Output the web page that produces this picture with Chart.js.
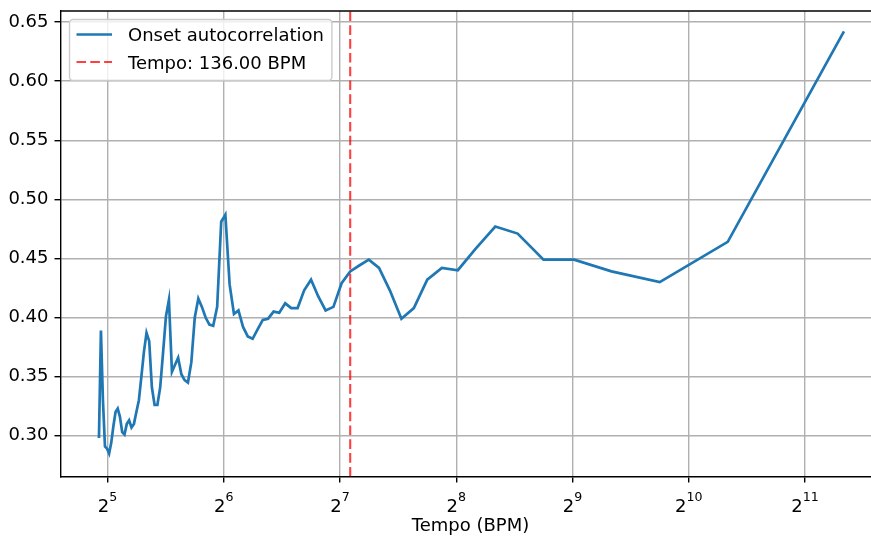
<!DOCTYPE html>
<html>
<head>
<meta charset="utf-8">
<script src="https://cdn.jsdelivr.net/npm/chart.js@4.4.1/dist/chart.umd.min.js"></script>
<style>
  html, body { margin: 0; padding: 0; background: #fff; }
  #wrap { width: 871px; height: 538px; position: relative; }
</style>
</head>
<body>
<div id="wrap"><canvas id="chart"></canvas></div>
<script>
// tempo (BPM) of each autocorrelation lag, ascending (lag 85 ... lag 1)
const tempoBpm = [
  30.40, 30.76, 31.13, 31.51, 31.90, 32.30, 32.71, 33.13, 33.56, 34.00,
  34.45, 34.92, 35.40, 35.89, 36.39, 36.91, 37.45, 38.00, 38.57, 39.15,
  39.75, 40.37, 41.02, 41.68, 42.36, 43.07, 43.80, 44.55, 45.33, 46.14,
  46.98, 47.85, 48.75, 49.69, 50.67, 51.68, 52.73, 53.83, 54.98, 56.17,
  57.42, 58.73, 60.09, 61.52, 63.02, 64.60, 66.26, 68.00, 69.84, 71.78,
  73.83, 76.00, 78.30, 80.75, 83.35, 86.13, 89.10, 92.29, 95.70, 99.38,
  103.36, 107.67, 112.35, 117.45, 123.05, 129.20, 136.00, 143.55, 152.00, 161.50,
  172.27, 184.57, 198.77, 215.33, 234.91, 258.40, 287.11, 323.00, 369.14, 430.66,
  516.80, 646.00, 861.33, 1291.99, 2583.98
];
const onsetAutocorr = [
  0.298, 0.389, 0.330, 0.291, 0.289, 0.285, 0.294, 0.308, 0.320, 0.323,
  0.316, 0.303, 0.301, 0.310, 0.313, 0.307, 0.310, 0.320, 0.330, 0.350,
  0.371, 0.387, 0.380, 0.341, 0.326, 0.326, 0.341, 0.370, 0.401, 0.415,
  0.354, 0.360, 0.366, 0.352, 0.347, 0.345, 0.362, 0.400, 0.416, 0.409,
  0.400, 0.394, 0.393, 0.409, 0.481, 0.487, 0.428, 0.403, 0.406, 0.392,
  0.384, 0.382, 0.390, 0.398, 0.399, 0.405, 0.404, 0.412, 0.408, 0.408,
  0.423, 0.432, 0.418, 0.406, 0.409, 0.429, 0.439, 0.444, 0.449, 0.442,
  0.423, 0.399, 0.408, 0.432, 0.442, 0.440, 0.458, 0.477, 0.471, 0.449,
  0.449, 0.439, 0.430, 0.464, 0.642
];
const estimatedTempo = 136.00;
const xTickExponents = [5, 6, 7, 8, 9, 10, 11];
const yTicks = [0.30, 0.35, 0.40, 0.45, 0.50, 0.55, 0.60, 0.65];
const xLimits = [24.17, 3036];
const yLimits = [0.2655, 0.6593];

const BIG = '18px "DejaVu Sans"';
const SMALL = '12.6px "DejaVu Sans"';
Chart.defaults.font.family = 'DejaVu Sans';

// top spine, 2^n tick labels and the x axis title
const axesExtras = {
  id: 'axesExtras',
  afterDraw(chart) {
    const { ctx, chartArea, scales } = chart;
    const xs = scales.x;
    ctx.save();
    ctx.strokeStyle = '#000';
    ctx.lineWidth = 1.4;
    ctx.beginPath();
    ctx.moveTo(chartArea.left, chartArea.top);
    ctx.lineTo(chartArea.right, chartArea.top);
    ctx.stroke();

    ctx.fillStyle = '#000';
    ctx.textBaseline = 'alphabetic';
    ctx.textAlign = 'left';
    xs.ticks.forEach(t => {
      const px = xs.getPixelForValue(t.value);
      const e = String(Math.round(Math.log2(t.value)));
      ctx.font = BIG;
      const wb = ctx.measureText('2').width;
      ctx.font = SMALL;
      const we = ctx.measureText(e).width;
      const left = px - (wb + we) / 2;
      ctx.font = BIG;
      ctx.fillText('2', left, 511.5);
      ctx.font = SMALL;
      ctx.fillText(e, left + wb, 500.5);
    });

    ctx.font = BIG;
    ctx.textAlign = 'center';
    ctx.fillText('Tempo (BPM)', 470.5, 531);
    ctx.restore();
  }
};

// matplotlib style legend in the upper left corner
const boxLegend = {
  id: 'boxLegend',
  afterDraw(chart) {
    const { ctx } = chart;
    const sets = chart.data.datasets;
    ctx.save();
    ctx.font = BIG;
    const textX = 128;
    let maxW = 0;
    sets.forEach(d => { maxW = Math.max(maxW, ctx.measureText(d.label).width); });
    const bx = 69.5, by = 19.5, bw = textX + maxW + 8 - bx, bh = 61;
    ctx.beginPath();
    ctx.roundRect(bx, by, bw, bh, 3.5);
    ctx.fillStyle = 'rgba(255,255,255,0.8)';
    ctx.fill();
    ctx.strokeStyle = '#cccccc';
    ctx.lineWidth = 1.4;
    ctx.stroke();

    const order = [1, 0]; // autocorrelation first, then the tempo marker
    order.forEach((idx, row) => {
      const d = sets[idx];
      const cy = 34.5 + row * 27.5;
      ctx.beginPath();
      ctx.setLineDash(d.borderDash || []);
      ctx.strokeStyle = d.borderColor;
      ctx.lineWidth = d.borderWidth;
      ctx.moveTo(76.5, cy);
      ctx.lineTo(112, cy);
      ctx.stroke();
      ctx.setLineDash([]);
      ctx.fillStyle = '#000';
      ctx.textBaseline = 'alphabetic';
      ctx.textAlign = 'left';
      ctx.fillText(d.label, textX, cy + 6.5);
    });
    ctx.restore();
  }
};

new Chart(document.getElementById('chart'), {
  type: 'line',
  data: {
    datasets: [
      {
        label: 'Tempo: ' + estimatedTempo.toFixed(2) + ' BPM',
        data: [{ x: estimatedTempo, y: yLimits[0] }, { x: estimatedTempo, y: yLimits[1] }],
        borderColor: 'rgba(255,0,0,0.75)',
        borderWidth: 2.1,
        borderDash: [9.6, 4.2],
        pointRadius: 0,
        order: 0
      },
      {
        label: 'Onset autocorrelation',
        data: tempoBpm.map((t, i) => ({ x: t, y: onsetAutocorr[i] })),
        borderColor: '#1f77b4',
        borderWidth: 2.7,
        pointRadius: 0,
        tension: 0,
        order: 1
      }
    ]
  },
  options: {
    responsive: true,
    maintainAspectRatio: false,
    devicePixelRatio: 1,
    animation: false,
    layout: { padding: { top: 11, right: 0, left: 0, bottom: 0 } },
    plugins: {
      legend: { display: false },
      tooltip: { enabled: false }
    },
    scales: {
      x: {
        type: 'logarithmic',
        min: xLimits[0],
        max: xLimits[1],
        afterBuildTicks: (axis) => {
          axis.ticks = xTickExponents.map(e => ({ value: Math.pow(2, e) }));
        },
        afterFit: (axis) => {
          axis.height = 61.5;
          axis.paddingLeft = 0;
          axis.paddingRight = 0;
        },
        ticks: { display: false },
        grid: { color: '#b0b0b0', lineWidth: 1.4, tickColor: '#000', tickLength: 6, tickWidth: 1.4 },
        border: { color: '#000', width: 1.4 }
      },
      y: {
        type: 'linear',
        min: yLimits[0],
        max: yLimits[1],
        afterBuildTicks: (axis) => {
          axis.ticks = yTicks.map(v => ({ value: v }));
        },
        afterFit: (axis) => {
          axis.width = 60.5;
          axis.paddingTop = 0;
          axis.paddingBottom = 0;
        },
        ticks: {
          color: '#000',
          font: { size: 18, family: 'DejaVu Sans' },
          padding: 6,
          callback: (v) => Number(v).toFixed(2)
        },
        grid: { color: '#b0b0b0', lineWidth: 1.4, tickColor: '#000', tickLength: 6, tickWidth: 1.4 },
        border: { color: '#000', width: 1.4 }
      }
    }
  },
  plugins: [axesExtras, boxLegend]
});
</script>
</body>
</html>
